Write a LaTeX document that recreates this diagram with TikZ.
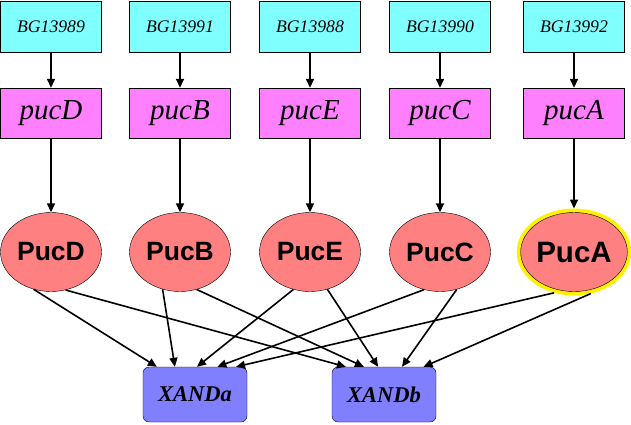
\documentclass[tikz,border=0pt]{standalone}
\usepackage{fontspec}
\setmainfont{Liberation Serif}
\setsansfont{Liberation Sans}
\usepackage{tikz}
\usetikzlibrary{positioning,arrows.meta,shapes}

\begin{document}
\begin{tikzpicture}[x=1pt,y=-1pt]
	\tikzstyle{gene_style} = [rectangle,draw=black,fill={rgb,255:red,128;green,255;blue,255},minimum width=101pt,minimum height=51pt,inner sep=0pt,font=\fontsize{17.7}{20}\selectfont\itshape]
	\tikzstyle{puc_style} = [rectangle,draw=black,fill={rgb,255:red,255;green,128;blue,255},minimum width=101pt,minimum height=50pt,inner sep=0pt,font=\fontsize{29}{31}\selectfont\itshape]
	\tikzstyle{prot_style} = [ellipse,draw=black,fill={rgb,255:red,255;green,128;blue,128},minimum width=101pt,minimum height=79pt,inner sep=0pt,font=\fontsize{26.5}{28}\selectfont\sffamily\bfseries]
	\tikzstyle{xand_style} = [rectangle,rounded corners=6pt,draw=black,fill={rgb,255:red,128;green,128;blue,255},minimum width=104pt,minimum height=55pt,inner sep=0pt,font=\fontsize{22.5}{24}\selectfont\bfseries\itshape]
	\tikzstyle{edge_style} = [draw=black,line width=1.6pt,-{Triangle[length=9pt,width=8pt]}]
	\useasboundingbox (0,0) rectangle (631,424);
		% genes
		\node[gene_style] (b1) at (51,26.5) {BG13989};
		\node[gene_style] (b2) at (180,26.5) {BG13991};
		\node[gene_style] (b3) at (310,26.5) {BG13988};
		\node[gene_style] (b4) at (440,26.5) {BG13990};
		\node[gene_style] (b5) at (574,26.5) {BG13992};
		\node[puc_style] (g1) at (51,113) {pucD};
		\node[puc_style] (g2) at (180,113) {pucB};
		\node[puc_style] (g3) at (310,113) {pucE};
		\node[puc_style] (g4) at (440,113) {pucC};
		\node[puc_style] (g5) at (574,113) {pucA};
		% proteins
		\node[prot_style] (p1) at (51,252) {PucD};
		\node[prot_style] (p2) at (180,252) {PucB};
		\node[prot_style] (p3) at (310,252) {PucE};
		\node[prot_style] (p4) at (440,252) {PucC};
		\node[prot_style,preaction={draw=yellow,line width=8pt},outer sep=4pt,font=\fontsize{29.5}{31}\selectfont\sffamily\bfseries] (p5) at (574,252) {PucA};
		\node[xand_style] (x1) at (195,394.5) {XAND\textit{a}};
		\node[xand_style] (x2) at (384,394.5) {XAND\textit{b}};
		\draw[edge_style] (b1) -- (g1);
		\draw[edge_style] (b2) -- (g2);
		\draw[edge_style] (b3) -- (g3);
		\draw[edge_style] (b4) -- (g4);
		\draw[edge_style] (b5) -- (g5);
		\draw[edge_style] (g1) -- (p1);
		\draw[edge_style] (g2) -- (p2);
		\draw[edge_style] (g3) -- (p3);
		\draw[edge_style] (g4) -- (p4);
		\draw[edge_style] (g5) -- (p5);
		\draw[edge_style] (p1.245) -- (x1.144);
		\draw[edge_style] (p1.291) -- (x2.144);
		\draw[edge_style] (p2.245) -- (x1.126);
		\draw[edge_style] (p2.294) -- (x2.126);
		\draw[edge_style] (p3.246) -- (x1.86);
		\draw[edge_style] (p3.295) -- (x2.102);
		\draw[edge_style] (p4.247) -- (x1.51);
		\draw[edge_style] (p4.294) -- (x2.57);
		\draw[edge_style] (p5.244) -- (x1.34);
		\draw[edge_style] (p5.292) -- (x2.35);
\end{tikzpicture}
\end{document}
